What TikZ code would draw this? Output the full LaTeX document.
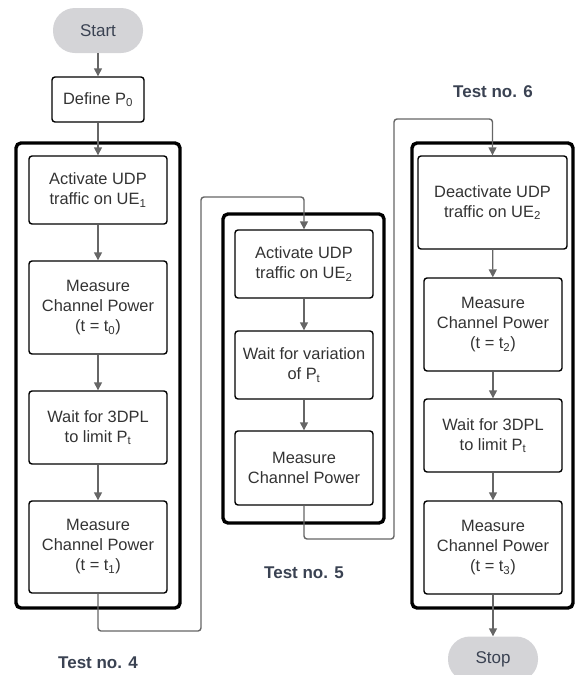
\documentclass[tikz,border=0pt]{standalone}
\usepackage{fontspec}
\setmainfont{Liberation Sans}
\usetikzlibrary{arrows.meta}
\definecolor{conncol}{HTML}{666666}
\definecolor{txtcol}{HTML}{333333}
\definecolor{labcol}{HTML}{3A4252}
\definecolor{pillcol}{HTML}{D4D4D7}
\tikzset{
  inbox/.style={draw=black, line width=1.4pt, rounded corners=3pt, align=center,
    text=txtcol, font=\fontsize{16.4}{20}\selectfont, inner sep=0pt, minimum width=138pt},
  outbox/.style={draw=black, line width=3.4pt, rounded corners=5pt, inner sep=0pt},
  pill/.style={fill=pillcol, draw=none, rounded corners=22pt, minimum width=90pt,
    minimum height=45pt, text=labcol, font=\fontsize{17}{20}\selectfont},
  conn/.style={draw=conncol, line width=1.4pt, rounded corners=3pt,
    -{Triangle[length=8pt,width=8pt]}},
  testlab/.style={text=labcol, font=\fontsize{17}{20}\selectfont\bfseries}
}
\newcommand{\sbs}[1]{\textsubscript{#1}}
\begin{document}
\begin{tikzpicture}[x=1pt,y=-1pt]
\useasboundingbox (0,0) rectangle (575,675);
% outer boxes
\node[outbox, minimum width=164pt, minimum height=465pt] (g4) at (98,375.5) {};
\node[outbox, minimum width=161pt, minimum height=309pt] (g5) at (303.5,368.5) {};
\node[outbox, minimum width=161pt, minimum height=465pt] (g6) at (492.5,375.5) {};
% start / define
\node[pill] (start) at (98,30.5) {Start};
\node[inbox, minimum width=92pt, minimum height=45pt] (def) at (98,99.5) {Define P\sbs{0}};
% column 1
\node[inbox, minimum height=68pt] (a1) at (98,190) {Activate UDP\\traffic on UE\sbs{1}};
\node[inbox, minimum height=93pt] (a2) at (98,307.5) {Measure\\Channel Power\\(t = t\sbs{0})};
\node[inbox, minimum height=73pt] (a3) at (98,427.5) {Wait for 3DPL\\to limit P\sbs{t}};
\node[inbox, minimum height=92pt] (a4) at (98,547) {Measure\\Channel Power\\(t = t\sbs{1})};
% column 2
\node[inbox, minimum height=68pt] (b1) at (304,264) {Activate UDP\\traffic on UE\sbs{2}};
\node[inbox, minimum height=68pt] (b2) at (304,365) {Wait for variation\\of P\sbs{t}};
\node[inbox, minimum height=74pt] (b3) at (304,468) {Measure\\Channel Power};
% column 3
\node[inbox, minimum width=149pt, minimum height=93pt] (c1) at (492.5,202.5) {Deactivate UDP\\traffic on UE\sbs{2}};
\node[inbox, minimum height=93pt] (c2) at (493,324.5) {Measure\\Channel Power\\(t = t\sbs{2})};
\node[inbox, minimum height=73pt] (c3) at (493,435.5) {Wait for 3DPL\\to limit P\sbs{t}};
\node[inbox, minimum height=93pt] (c4) at (493,547.5) {Measure\\Channel Power\\(t = t\sbs{3})};
\node[pill] (stop) at (493,659) {Stop};
% labels
\node[testlab] (l4) at (98,663) {Test no. 4};
\node[testlab] (l5) at (304,573) {Test no. 5};
\node[testlab] (l6) at (493,92) {Test no. 6};
% routing points
\coordinate (j1) at (201,631);
\coordinate (j2) at (201,197);
\coordinate (k1) at (394,539);
\coordinate (k2) at (394,119);
% connectors
\draw[conn] (start) -- (def);
\draw[conn] (def) -- (a1);
\draw[conn] (a1) -- (a2);
\draw[conn] (a2) -- (a3);
\draw[conn] (a3) -- (a4);
\draw[conn] (a4.south) |- (j1) -- (j2) -| (b1.north);
\draw[conn] (b1) -- (b2);
\draw[conn] (b2) -- (b3);
\draw[conn] (b3.south) |- (k1) -- (k2) -| (c1.north);
\draw[conn] (c1) -- (c2);
\draw[conn] (c2) -- (c3);
\draw[conn] (c3) -- (c4);
\draw[conn] (c4) -- (stop);
\end{tikzpicture}
\end{document}
